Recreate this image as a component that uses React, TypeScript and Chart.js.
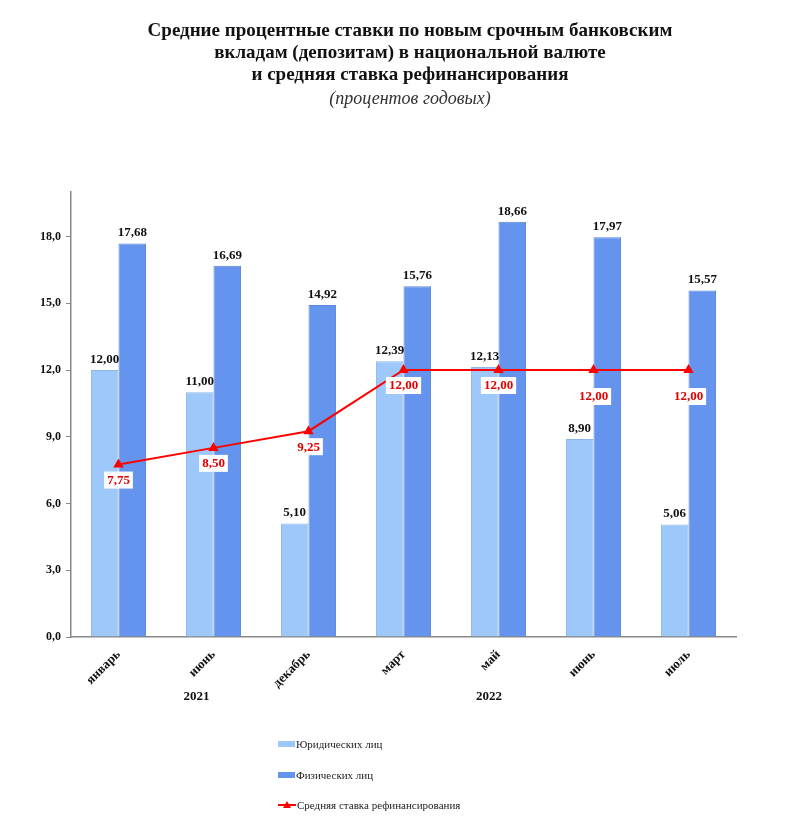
import React, { useEffect, useRef } from "react";
import Chart from "chart.js/auto";

const months = ["январь", "июнь", "декабрь", "март", "май", "июнь", "июль"];
const legalRates = [12.0, 11.0, 5.1, 12.39, 12.13, 8.9, 5.06];
const personalRates = [17.68, 16.69, 14.92, 15.76, 18.66, 17.97, 15.57];
const refinancingRate = [7.75, 8.5, 9.25, 12.0, 12.0, 12.0, 12.0];
const yTicks = [0, 3, 6, 9, 12, 15, 18];
const years = ["2021", "2022"];

const SERIF = '"Liberation Serif", "DejaVu Serif", serif';
const LIGHT = "#9dc8f9";
const DARK = "#6494ee";
const RED = "#ff0000";

const fmt2 = (v: number) => v.toFixed(2).replace(".", ",");

// подписи значений, годы под осью
const labelsPlugin = {
  id: "labels",
  afterDatasetsDraw(chart: any) {
    const ctx = chart.ctx;
    ctx.save();
    ctx.textAlign = "center";
    ctx.textBaseline = "bottom";
    ctx.font = `bold 13px ${SERIF}`;
    ctx.fillStyle = "#111";
    [1, 2].forEach((di) => {
      chart.getDatasetMeta(di).data.forEach((bar: any, i: number) => {
        const v = chart.data.datasets[di].data[i] as number;
        ctx.fillText(fmt2(v), bar.x, bar.y - 4);
      });
    });

    // ставка рефинансирования
    ctx.textBaseline = "middle";
    chart.getDatasetMeta(0).data.forEach((pt: any, i: number) => {
      const txt = fmt2(refinancingRate[i]);
      const w = ctx.measureText(txt).width + 6;
      const cy = pt.y + (i >= 5 ? 26 : 15);
      ctx.fillStyle = "#fff";
      ctx.fillRect(pt.x - w / 2, cy - 8, w, 17);
      ctx.fillStyle = "#e00000";
      ctx.fillText(txt, pt.x, cy + 1);
    });

    const xs = chart.scales.x;
    ctx.fillStyle = "#111";
    ctx.font = `bold 13px ${SERIF}`;
    ctx.fillText(years[0], xs.getPixelForValue(0.82), 689);
    ctx.fillText(years[1], xs.getPixelForValue(3.9), 689);
    ctx.restore();
  },
};

function RateChart() {
  const canvasRef = useRef<HTMLCanvasElement>(null);

  useEffect(() => {
    const ctx = canvasRef.current?.getContext("2d");
    if (!ctx) return;

    const chart = new Chart(ctx, {
      type: "bar",
      data: {
        labels: months,
        datasets: [
          {
            type: "line",
            label: "Средняя ставка рефинансирования",
            data: refinancingRate,
            borderColor: RED,
            backgroundColor: RED,
            borderWidth: 2,
            pointStyle: "triangle",
            pointRadius: 4,
            order: 0,
          } as any,
          {
            label: "Юридических лиц",
            data: legalRates,
            backgroundColor: LIGHT,
            borderColor: "#8bb8ea",
            borderWidth: 1,
            order: 1,
          },
          {
            label: "Физических лиц",
            data: personalRates,
            backgroundColor: DARK,
            borderColor: "#5a86dc",
            borderWidth: 1,
            order: 1,
          },
        ],
      },
      options: {
        animation: false,
        responsive: true,
        maintainAspectRatio: false,
        layout: { padding: { top: 184, left: 13, right: 56, bottom: 0 } },
        plugins: {
          legend: { display: false },
          tooltip: { enabled: false },
        },
        datasets: {
          bar: { categoryPercentage: 0.58, barPercentage: 1 },
        },
        scales: {
          x: {
            grid: { display: false },
            border: { display: true, color: "#888", width: 1.5 },
            ticks: {
              color: "#111",
              font: { family: SERIF, size: 13, weight: "bold" },
              minRotation: 45,
              maxRotation: 45,
              padding: 2,
            },
            afterFit: (s: any) => {
              s.height = 188;
            },
          },
          y: {
            min: 0,
            max: 20,
            afterBuildTicks: (s: any) => {
              s.ticks = yTicks.map((v) => ({ value: v }));
            },
            grid: {
              display: true,
              drawOnChartArea: false,
              drawTicks: true,
              tickLength: 5,
              color: "#888",
            },
            border: { display: true, color: "#888", width: 1.5 },
            ticks: {
              color: "#111",
              padding: 5,
              font: { family: SERIF, size: 12, weight: "bold" },
              callback: (v: any) => Number(v).toFixed(1).replace(".", ","),
            },
            afterFit: (s: any) => {
              s.width = 50;
            },
          },
        },
      },
      plugins: [labelsPlugin],
    });

    return () => chart.destroy();
  }, []);

  return <canvas ref={canvasRef}></canvas>;
}

export default function App() {
  const titleStyle: React.CSSProperties = {
    position: "absolute",
    top: 11,
    left: 10,
    width: 784,
    textAlign: "center",
    fontFamily: SERIF,
    color: "#111",
  };
  const legendRow: React.CSSProperties = {
    position: "absolute",
    left: 270,
    display: "flex",
    alignItems: "center",
    fontFamily: SERIF,
    fontSize: 11,
    color: "#222",
  };
  const swatch = (c: string) => (
    <span style={{ display: "inline-block", width: 17, height: 6, background: c, marginRight: 1 }} />
  );
  return (
    <div style={{ position: "relative", width: 784, height: 817 }}>
      <div style={{ position: "absolute", inset: 0 }}>
        <RateChart />
      </div>
      <div style={titleStyle}>
        <div style={{ fontWeight: "bold", fontSize: 19, lineHeight: "22px" }}>
          Средние процентные ставки по новым срочным банковским
          <br />
          вкладам (депозитам) в национальной валюте
          <br />
          и средняя ставка рефинансирования
        </div>
        <div style={{ fontStyle: "italic", fontSize: 18, lineHeight: "26px", color: "#333" }}>
          (процентов годовых)
        </div>
      </div>
      <div style={{ ...legendRow, top: 730 }}>
        {swatch(LIGHT)}Юридических лиц
      </div>
      <div style={{ ...legendRow, top: 761 }}>
        {swatch(DARK)}Физических лиц
      </div>
      <div style={{ ...legendRow, top: 791 }}>
        <svg width="18" height="8" style={{ marginRight: 1 }}>
          <line x1="0" y1="4" x2="18" y2="4" stroke={RED} strokeWidth="2" />
          <polygon points="9,0 13,7 5,7" fill={RED} />
        </svg>
        Средняя ставка рефинансирования
      </div>
    </div>
  );
}
